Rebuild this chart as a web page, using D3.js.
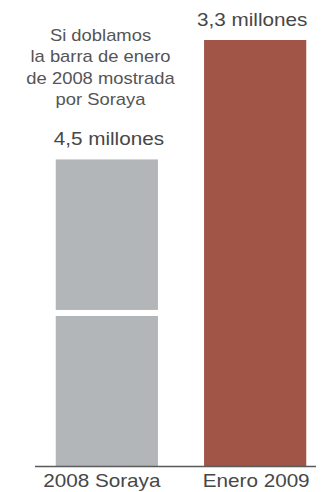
<!DOCTYPE html>
<html>
<head>
<meta charset="utf-8">
<script src="https://cdn.jsdelivr.net/npm/d3@7"></script>
<style>
  html, body { margin: 0; padding: 0; background: #fff; }
  svg { display: block; }
  text { font-family: "Liberation Sans", Arial, Helvetica, sans-serif; fill: #474747; }
</style>
</head>
<body>
<svg id="chart" width="325" height="492"></svg>
<script>
// Categories and values (millions of registered unemployed)
const categories = ["2008 Soraya", "Enero 2009"];
const sorayaSegments = [2.25, 2.25];       // Jan 2008 bar, doubled (two copies stacked)
const enero2009 = 3.3;
const valueLabels = ["4,5 millones", "3,3 millones"];
const noteLines = ["Si doblamos", "la barra de enero", "de 2008 mostrada", "por Soraya"];

const baseY = 466.5, topY = 40;
const stretch = 1.15;   // horizontal text stretch

const svg = d3.select("#chart");

const x = d3.scaleBand()
  .domain(categories)
  .range([32, 330])
  .paddingInner(0.311)
  .paddingOuter(0.16);

// The 2009 bar uses its own scale; the Soraya bar keeps the scale of the original graphic
const yReal = d3.scaleLinear().domain([0, enero2009]).range([baseY, topY]);
const ySoraya = d3.scaleLinear().domain([0, 6.25]).range([baseY, topY]);

const gray = "#b3b6b9", red = "#a05547";

// Stacked Soraya segments, separated by a thin white gap
const stack = [];
let acc = 0;
sorayaSegments.forEach((v, i) => { stack.push({ y0: acc, y1: acc + v }); acc += v; });
const gap = 3;
svg.append("g").selectAll("rect").data(stack).join("rect")
  .attr("x", x(categories[0]))
  .attr("width", x.bandwidth())
  .attr("y", d => ySoraya(d.y1))
  .attr("height", d => ySoraya(d.y0) - ySoraya(d.y1))
  .attr("fill", gray);

svg.append("g").selectAll("rect").data(stack.slice(1)).join("rect")
  .attr("x", x(categories[0]) - 2)
  .attr("width", x.bandwidth() + 4)
  .attr("y", d => ySoraya(d.y0) - gap)
  .attr("height", gap * 2)
  .attr("fill", "#fff");

// 2009 bar
svg.append("rect")
  .attr("x", x(categories[1]))
  .attr("width", x.bandwidth())
  .attr("y", yReal(enero2009))
  .attr("height", baseY - yReal(enero2009))
  .attr("fill", red);

// Baseline
svg.append("line")
  .attr("x1", 35).attr("x2", 316)
  .attr("y1", baseY).attr("y2", baseY)
  .attr("stroke", "#5a5a5a").attr("stroke-width", 1.5);

function stretchedText(g, cx, y, str, size, color) {
  g.append("text")
    .attr("transform", `translate(${cx},${y}) scale(${stretch},1)`)
    .attr("text-anchor", "middle")
    .style("font-size", size + "px")
    .style("fill", color || null)
    .text(str);
}

const tg = svg.append("g");
// Value labels above the bars
const barTops = [ySoraya(d3.sum(sorayaSegments)), yReal(enero2009)];
categories.forEach((c, i) => {
  stretchedText(tg, x(c) + x.bandwidth() / 2 + (i === 0 ? 2 : -3), barTops[i] - 14, valueLabels[i], 18);
});

// Category labels below the baseline
categories.forEach((c, i) => {
  stretchedText(tg, x(c) + x.bandwidth() / 2 + (i === 0 ? -5 : 1), 486.5, c, 18);
});

// Explanatory note above the Soraya bar
noteLines.forEach((s, i) => {
  stretchedText(tg, 100.5, 40.5 + i * 21.5, s, 16, "#555");
});
</script>
</body>
</html>
